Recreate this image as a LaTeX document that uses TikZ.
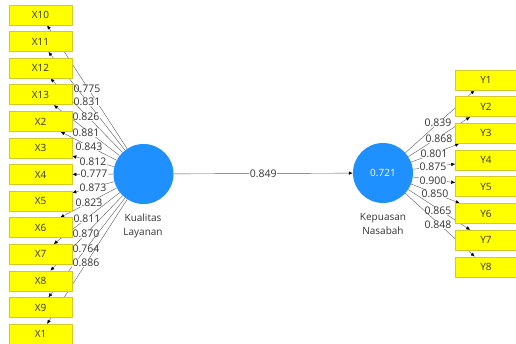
\documentclass[tikz,border=0pt]{standalone}
\usepackage{fontspec}
\setmainfont{Open Sans}
\usetikzlibrary{arrows.meta,backgrounds}
\definecolor{ind}{RGB}{255,255,0}
\definecolor{indb}{RGB}{214,200,40}
\definecolor{lv}{RGB}{30,144,255}
\definecolor{txt}{RGB}{51,51,51}
\definecolor{lnk}{RGB}{90,90,90}
\begin{document}
\begin{tikzpicture}[x=1pt,y=-1pt,
  font=\fontsize{10}{14.5}\selectfont,
  indbox/.style={draw=indb, fill=ind, minimum width=63pt, minimum height=20pt, inner sep=0pt, text=txt, line width=0.6pt},
  latent/.style={circle, fill=lv, minimum size=60pt, inner sep=0pt},
  link/.style={draw=lnk, line width=0.4pt, -{Latex[length=4pt,width=3.5pt,color=black]}},
  lbl/.style={fill=white, inner sep=0.4pt, text=txt, font=\fontsize{10.5}{12}\selectfont},
  lvname/.style={text=txt, align=center}]
\useasboundingbox (0,0) rectangle (516,344);
\node[latent] (kl) at (143.5,174) {};
\node[latent, text=white] (kn) at (383,173) {0.721};
\node[lvname] (kltxt) at (143,226) {Kualitas\\Layanan};
\node[lvname] (kntxt) at (383,224) {Kepuasan\\Nasabah};
\foreach \n/\y in {X10/15, X11/41.6, X12/68.2, X13/94.8, X2/121.4, X3/148, X4/174.6, X5/201.2, X6/227.8, X7/254.4, X8/281, X9/307.6, X1/334.2}
  \node[indbox] (\n) at (40.5,\y) {\n};
\foreach \n/\y in {Y1/80, Y2/106.7, Y3/133.4, Y4/160.1, Y5/186.8, Y6/213.5, Y7/240.2, Y8/266.9}
  \node[indbox, minimum width=61pt] (\n) at (486,\y) {\n};
\begin{scope}[on background layer]
\foreach \n/\v/\lx/\ly in {X10/0.775/87/89, X11/0.831/87/102, X12/0.826/86/117, X13/0.881/86/133, X2/0.843/89/147, X3/0.812/93/162, X4/0.777/94/174, X5/0.873/93/188, X6/0.823/89/203, X7/0.811/87/219, X8/0.870/86/234, X9/0.764/86/249, X1/0.886/86/263}
  \draw[link] (kl) -- (\n) node[lbl] at (\lx,\ly) {\v};
\foreach \n/\v/\lx/\ly in {Y1/0.839/438/123, Y2/0.868/439/139, Y3/0.801/434/154, Y4/0.875/433/167, Y5/0.900/433/181, Y6/0.850/435/194, Y7/0.865/438/211, Y8/0.848/438/225}
  \draw[link] (kn) -- (\n) node[lbl] at (\lx,\ly) {\v};
\draw[link] (kl) -- (kn) node[lbl, pos=0.5] {0.849};
\end{scope}
\end{tikzpicture}
\end{document}
